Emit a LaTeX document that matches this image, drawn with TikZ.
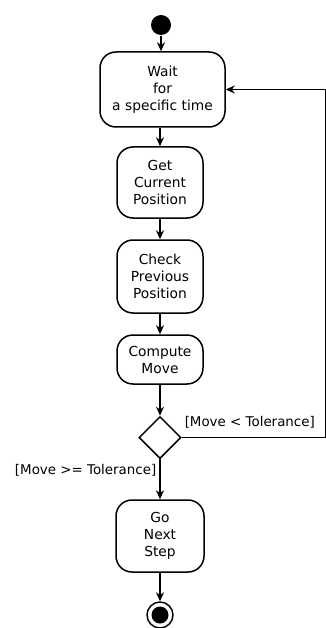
\documentclass[tikz,border=0pt]{standalone}
\usepackage{fontspec}
\setmainfont{DejaVu Sans}
\usetikzlibrary{arrows.meta,shapes.geometric}
\begin{document}
\begin{tikzpicture}[x=1pt,y=-1pt,
  line width=1.5pt,
  activity/.style={draw, rounded corners=16pt, align=center, inner sep=0pt,
    font=\fontsize{13.8}{17}\selectfont},
  guard/.style={font=\fontsize{13.4}{15}\selectfont, inner sep=0pt},
  flow/.style={-{Stealth[length=9pt,width=8pt]}},
  decision/.style={draw, diamond, minimum width=42pt, minimum height=42pt, inner sep=0pt},
]
\useasboundingbox (0,0) rectangle (326,628);

% initial and final states
\node[circle, fill=black, minimum size=20pt, inner sep=0pt] (start) at (161,25) {};
\node[circle, draw, line width=1.4pt, minimum size=26pt, inner sep=0pt] (final) at (160,615) {};
\fill (final.center) circle (8.5pt);

% activities
\node[activity, minimum width=125pt, minimum height=75pt] (wait) at (162.5,89.5) {Wait\\for\\a specific time};
\node[activity, minimum width=86pt, minimum height=71pt] (get) at (160,182.5) {Get\\Current\\Position};
\node[activity, minimum width=86pt, minimum height=73pt] (check) at (160,276.5) {Check\\Previous\\Position};
\node[activity, minimum width=86pt, minimum height=49pt] (compute) at (160,359.5) {Compute\\Move};
\node[decision] (dec) at (160,437.5) {};
\node[activity, minimum width=88pt, minimum height=72pt] (go) at (160,536) {Go\\Next\\Step};

% guards
\node[guard, anchor=west] (lt) at (184,422) {[Move < Tolerance]};
\node[guard, anchor=east] (ge) at (157,470) {[Move >= Tolerance]};

% control flow
\draw[flow] (start) -- (wait.north -| start);
\draw[flow] (wait.south -| get) -- (get);
\draw[flow] (get) -- (check);
\draw[flow] (check) -- (compute);
\draw[flow] (compute) -- (dec);
\draw[flow] (dec) -- (go);
\draw[flow] (go) -- (final);

% loop back when the move is below tolerance
\coordinate (lb) at (326,437.5);
\coordinate (lt2) at (326,89.5);
\draw[flow] (dec.east) -- (lb) -- (lt2) -- (wait.east);
\end{tikzpicture}
\end{document}
